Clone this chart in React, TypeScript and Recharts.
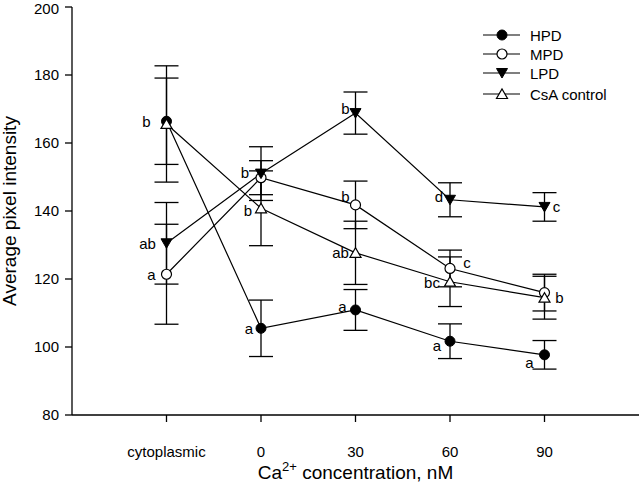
import React from 'react';
import { ComposedChart, Line, XAxis, YAxis, ErrorBar } from 'recharts';

const categories = ['cytoplasmic', '0', '30', '60', '90'];

const hpdMean = [166.4, 105.5, 110.9, 101.7, 97.7];
const hpdErr = [12.7, 8.3, 6.0, 5.1, 4.2];
const hpdLetters = ['b', 'a', 'a', 'a', 'a'];

const mpdMean = [121.4, 149.8, 141.8, 123.1, 116.0];
const mpdErr = [14.7, 5.0, 7.0, 5.4, 5.4];
const mpdLetters = ['a', '', 'b', 'c', ''];

const lpdMean = [130.5, 151.0, 168.8, 143.3, 141.2];
const lpdErr = [12.0, 7.9, 6.2, 5.0, 4.2];
const lpdLetters = ['ab', 'b', 'b', 'd', 'c'];

const csaMean = [165.6, 140.8, 127.7, 119.2, 114.5];
const csaErr = [17.1, 11.0, 9.3, 7.3, 6.3];
const csaLetters = ['', 'b', 'ab', 'bc', 'b'];

const yTicks = [80, 100, 120, 140, 160, 180, 200];

// where each significance letter sits relative to its point (px)
const hpdLetterOffset = [[-20, 0], [-12, 0], [-13, -3], [-13, 4], [-15, 8]];
const mpdLetterOffset = [[-15, 0], [0, 0], [-10, -8], [17, -6], [0, 0]];
const lpdLetterOffset = [[-19, 0], [-16, -1], [-10, -5], [-11, -3], [12, 0]];
const csaLetterOffset = [[0, 0], [-13, 2], [-15, 0], [-18, 1], [15, 0]];

type Shape = 'dot' | 'ring' | 'down' | 'up';

const FONT = '"Liberation Sans", Arial, sans-serif';

function buildRows(mean: number[], err: number[], letters: string[]) {
  return categories.map((c, i) => ({ x: i, name: c, y: mean[i], err: err[i], letter: letters[i] }));
}

const series = [
  { name: 'HPD', shape: 'dot' as Shape, data: buildRows(hpdMean, hpdErr, hpdLetters), offs: hpdLetterOffset },
  { name: 'MPD', shape: 'ring' as Shape, data: buildRows(mpdMean, mpdErr, mpdLetters), offs: mpdLetterOffset },
  { name: 'LPD', shape: 'down' as Shape, data: buildRows(lpdMean, lpdErr, lpdLetters), offs: lpdLetterOffset },
  { name: 'CsA control', shape: 'up' as Shape, data: buildRows(csaMean, csaErr, csaLetters), offs: csaLetterOffset },
];

function marker(shape: Shape, cx: number, cy: number) {
  switch (shape) {
    case 'dot':
      return <circle cx={cx} cy={cy} r={5} fill="#000" stroke="#000" strokeWidth={1} />;
    case 'ring':
      return <circle cx={cx} cy={cy} r={5} fill="#fff" stroke="#000" strokeWidth={1.2} />;
    case 'down':
      return (
        <polygon
          points={`${cx - 5.5},${cy - 4.5} ${cx + 5.5},${cy - 4.5} ${cx},${cy + 5}`}
          fill="#000"
          stroke="#000"
          strokeWidth={1}
        />
      );
    default:
      return (
        <polygon
          points={`${cx - 5.5},${cy + 4.5} ${cx + 5.5},${cy + 4.5} ${cx},${cy - 5}`}
          fill="#fff"
          stroke="#000"
          strokeWidth={1.2}
        />
      );
  }
}

const makeDot = (shape: Shape, offs: number[][]) => (props: any) => {
  const { cx, cy, index, payload } = props;
  if (cx == null || cy == null) return <g key={index} />;
  const [dx, dy] = offs[index] || [0, 0];
  return (
    <g key={index}>
      {marker(shape, cx, cy)}
      {payload.letter ? (
        <text
          x={cx + dx}
          y={cy + dy}
          textAnchor="middle"
          dominantBaseline="central"
          fontSize={15}
          fontFamily={FONT}
          fill="#000"
        >
          {payload.letter}
        </text>
      ) : null}
    </g>
  );
};

const XTitle = (props: any) => {
  const { viewBox } = props;
  const cx = viewBox.x + viewBox.width / 2;
  return (
    <text x={cx} y={viewBox.y + 64} textAnchor="middle" fontSize={19} fontFamily={FONT} fill="#000">
      <tspan>Ca</tspan>
      <tspan fontSize={13} dy={-8}>2+</tspan>
      <tspan dy={8}> concentration, nM</tspan>
    </text>
  );
};

const YTitle = (props: any) => {
  const { viewBox } = props;
  const cy = viewBox.y + viewBox.height / 2;
  return (
    <text
      x={9}
      y={cy}
      transform={`rotate(-90, 9, ${cy})`}
      textAnchor="middle"
      dominantBaseline="central"
      fontSize={19}
      fontFamily={FONT}
      fill="#000"
    >
      Average pixel intensity
    </text>
  );
};

const LegendBox = () => (
  <svg width={160} height={90} style={{ position: 'absolute', left: 480, top: 20 }}>
    {series.map((s, i) => {
      const y = [15, 34, 53, 74][i];
      return (
        <g key={s.name}>
          <line x1={3} x2={40} y1={y} y2={y} stroke="#000" strokeWidth={1.2} />
          {marker(s.shape, 22, y)}
          <text x={50} y={y} dominantBaseline="central" fontSize={15} fontFamily={FONT} fill="#000">
            {s.name}
          </text>
        </g>
      );
    })}
  </svg>
);

export default function App() {
  return (
    <div style={{ position: 'absolute', left: 0, top: 0, width: 640, height: 484, background: '#fff' }}>
      <ComposedChart width={640} height={484} margin={{ top: 7, right: 1, bottom: 0, left: 0 }}>
        <XAxis
          type="number"
          dataKey="x"
          domain={[-1, 5]}
          ticks={[0, 1, 2, 3, 4]}
          tickFormatter={(v: number) => categories[v] ?? ''}
          height={69}
          tickSize={7}
          tickMargin={24}
          stroke="#000"
          axisLine={{ stroke: '#000', strokeWidth: 1.3 }}
          tickLine={{ stroke: '#000', strokeWidth: 1.3 }}
          tick={{ fill: '#000', fontSize: 15, fontFamily: FONT }}
          label={<XTitle />}
          allowDataOverflow
        />
        <YAxis
          type="number"
          domain={[80, 200]}
          ticks={yTicks}
          width={72}
          tickSize={7}
          tickMargin={6}
          stroke="#000"
          axisLine={{ stroke: '#000', strokeWidth: 1.3 }}
          tickLine={{ stroke: '#000', strokeWidth: 1.3 }}
          tick={{ fill: '#000', fontSize: 15, fontFamily: FONT }}
          label={<YTitle />}
        />
        {series.map((s) => (
          <Line
            key={s.name}
            data={s.data}
            dataKey="y"
            name={s.name}
            type="linear"
            stroke="#000"
            strokeWidth={1.2}
            dot={makeDot(s.shape, s.offs)}
            activeDot={false}
            isAnimationActive={false}
          >
            <ErrorBar dataKey="err" direction="y" width={12} stroke="#000" strokeWidth={1.3} isAnimationActive={false} />
          </Line>
        ))}
      </ComposedChart>
      <LegendBox />
    </div>
  );
}
